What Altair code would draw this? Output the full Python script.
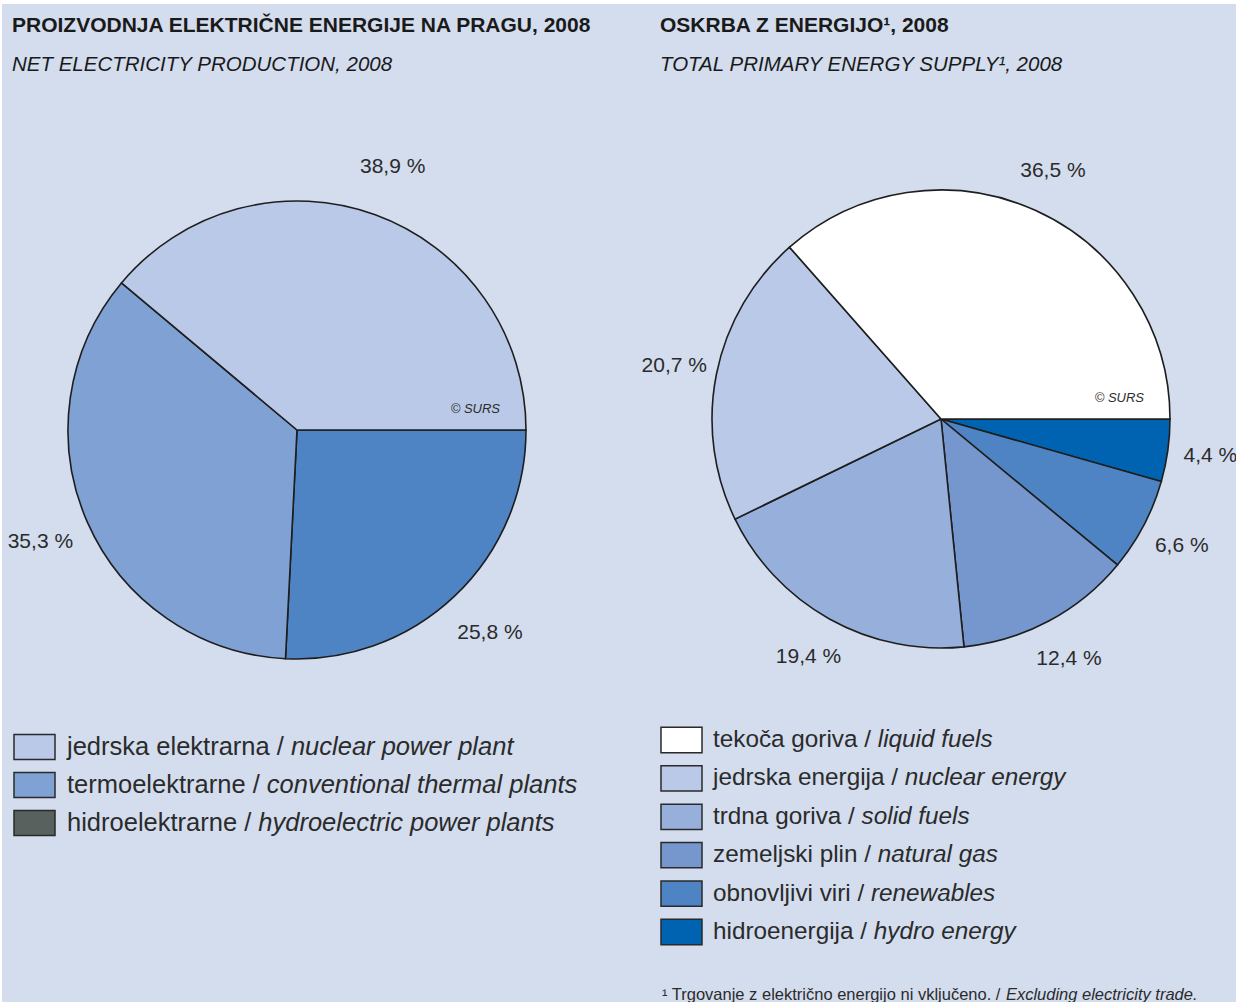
import math

import altair as alt
import pandas as pd

W, H = 1236, 1002
BG = "#d3ddee"
INK = "#2b2b2b"
SANS = "'Liberation Sans', Arial, sans-serif"

# ---- Net electricity production, 2008 (%), listed clockwise from 3 o'clock
elec_keys = ["hidroelektrarne", "termoelektrarne", "jedrska elektrarna"]
elec_values = [25.8, 35.3, 38.9]
elec_colors = ["#4f84c4", "#80a1d4", "#b9c9e7"]

elec_legend_si = ["jedrska elektrarna / ", "termoelektrarne / ", "hidroelektrarne / "]
elec_legend_en = ["nuclear power plant", "conventional thermal plants", "hydroelectric power plants"]
elec_legend_colors = ["#b9c9e7", "#80a1d4", "#58615d"]

# ---- Total primary energy supply, 2008 (%), listed clockwise from 3 o'clock
tpes_keys = ["hidroenergija", "obnovljivi viri", "zemeljski plin", "trdna goriva",
             "jedrska energija", "tekoča goriva"]
tpes_values = [4.4, 6.6, 12.4, 19.4, 20.7, 36.5]
tpes_colors = ["#0063b1", "#4f84c4", "#7597ce", "#97b0db", "#b9c9e7", "#ffffff"]

tpes_legend_si = ["tekoča goriva / ", "jedrska energija / ", "trdna goriva / ",
                  "zemeljski plin / ", "obnovljivi viri / ", "hidroenergija / "]
tpes_legend_en = ["liquid fuels", "nuclear energy", "solid fuels", "natural gas",
                  "renewables", "hydro energy"]
tpes_legend_colors = ["#ffffff", "#b9c9e7", "#97b0db", "#7597ce", "#4f84c4", "#0063b1"]

titles_si = ["PROIZVODNJA ELEKTRIČNE ENERGIJE NA PRAGU, 2008", "OSKRBA Z ENERGIJO¹, 2008"]
titles_en = ["NET ELECTRICITY PRODUCTION, 2008", "TOTAL PRIMARY ENERGY SUPPLY¹, 2008"]
footnote_si = "¹ Trgovanje z električno energijo ni vključeno. / "
footnote_en = "Excluding electricity trade."
credit = "© SURS"

# Advance widths (per 1000 em) of the Arial-metric sans, so the italic half
# of a line starts right after its upright half.
ADV = {
    "a": 556, "b": 556, "c": 500, "d": 556, "e": 556, "f": 278, "g": 556, "h": 556,
    "i": 222, "j": 222, "k": 500, "l": 222, "m": 833, "n": 556, "o": 556, "p": 556,
    "q": 556, "r": 333, "s": 500, "t": 278, "u": 556, "v": 500, "w": 722, "x": 500,
    "y": 500, "z": 500, "č": 500, "š": 500, "ž": 500, " ": 278, "/": 278, ".": 278,
    "¹": 333, "T": 611, "E": 667,
}


def text_width(s, size):
    return sum(ADV.get(ch, 556) for ch in s) / 1000.0 * size


def pie(keys, values, colors, cx, cy, r, label_r):
    df = pd.DataFrame({"key": keys, "value": values, "order": list(range(len(keys)))})
    df["label"] = [f"{v:.1f}".replace(".", ",") + " %" for v in values]
    theta = alt.Theta(
        "value:Q", stack=True,
        scale=alt.Scale(range=[math.pi / 2, math.pi / 2 + 2 * math.pi]),
    )
    base = alt.Chart(df).encode(
        theta=theta, order=alt.Order("order:Q"), x=alt.value(cx), y=alt.value(cy)
    )
    arcs = base.mark_arc(radius=r, stroke="#1e1e1e", strokeWidth=1.6).encode(
        color=alt.Color("key:N", scale=alt.Scale(domain=keys, range=colors), legend=None)
    )
    labels = base.mark_text(
        radius=label_r, font=SANS, fontSize=21, color=INK, align="center", baseline="middle"
    ).encode(text="label:N")
    mark = alt.Chart(pd.DataFrame({"t": [credit]})).mark_text(
        font=SANS, fontSize=13, fontStyle="italic", color=INK, align="right", baseline="middle"
    ).encode(text="t:N", x=alt.value(cx + 203), y=alt.value(cy - 21))
    return alt.layer(arcs, labels, mark)


def legend(si, en, colors, box_x, text_x, y0, step, size):
    n = len(si)
    df = pd.DataFrame({"row": list(range(n)), "si": si, "en": en, "key": si})
    df["top"] = df["row"] - 0.33
    df["bottom"] = df["row"] + 0.33
    df["x_en"] = [text_x + text_width(s, size) for s in si]
    ys = alt.Scale(domain=[0, n - 1], range=[y0, y0 + (n - 1) * step], nice=False, zero=False)
    xs = alt.Scale(domain=[0, W], range=[0, W], nice=False, zero=False)
    base = alt.Chart(df)
    boxes = base.mark_rect(stroke="#2a2a2a", strokeWidth=1.5).encode(
        x=alt.value(box_x), x2=alt.value(box_x + 41),
        y=alt.Y("top:Q", scale=ys, axis=None), y2="bottom:Q",
        color=alt.Color("key:N", scale=alt.Scale(domain=si, range=colors), legend=None),
    )
    upright = base.mark_text(
        font=SANS, fontSize=size, color=INK, align="left", baseline="middle"
    ).encode(x=alt.value(text_x), y=alt.Y("row:Q", scale=ys, axis=None), text="si:N")
    italic = base.mark_text(
        font=SANS, fontSize=size, fontStyle="italic", color=INK, align="left", baseline="middle"
    ).encode(
        x=alt.X("x_en:Q", scale=xs, axis=None),
        y=alt.Y("row:Q", scale=ys, axis=None), text="en:N",
    )
    return alt.layer(boxes, upright, italic).resolve_scale(color="independent")


def heading(si, en, x):
    top = alt.Chart(pd.DataFrame({"t": [si]})).mark_text(
        font=SANS, fontSize=21, fontWeight="bold", color="#1a1a1a", align="left",
        baseline="alphabetic",
    ).encode(text="t:N", x=alt.value(x), y=alt.value(32))
    sub = alt.Chart(pd.DataFrame({"t": [en]})).mark_text(
        font=SANS, fontSize=20.5, fontStyle="italic", color="#1a1a1a", align="left",
        baseline="alphabetic",
    ).encode(text="t:N", x=alt.value(x), y=alt.value(71))
    return alt.layer(top, sub)


panel = alt.Chart(pd.DataFrame({"a": [0]})).mark_rect(color=BG).encode(
    x=alt.value(2), x2=alt.value(W), y=alt.value(4), y2=alt.value(H)
)

foot_size = 16.5
foot_x = 662
foot_df = pd.DataFrame({"si": [footnote_si], "en": [footnote_en]})
foot_si = alt.Chart(foot_df).mark_text(
    font=SANS, fontSize=foot_size, color=INK, align="left", baseline="alphabetic"
).encode(text="si:N", x=alt.value(foot_x), y=alt.value(1000))
foot_en = alt.Chart(foot_df).mark_text(
    font=SANS, fontSize=foot_size, fontStyle="italic", color=INK, align="left",
    baseline="alphabetic",
).encode(
    text="en:N",
    x=alt.value(foot_x + text_width(footnote_si, foot_size)),
    y=alt.value(1000),
)

chart = alt.layer(
    panel,
    heading(titles_si[0], titles_en[0], 12),
    heading(titles_si[1], titles_en[1], 660),
    pie(elec_keys, elec_values, elec_colors, 297, 430, 229, 280),
    pie(tpes_keys, tpes_values, tpes_colors, 941, 419, 229, 272),
    legend(elec_legend_si, elec_legend_en, elec_legend_colors, 14, 67, 747, 38, 25.5),
    legend(tpes_legend_si, tpes_legend_en, tpes_legend_colors, 661, 713, 740, 38.4, 24.3),
    foot_si,
    foot_en,
).resolve_scale(
    theta="independent", color="independent", x="independent", y="independent"
).properties(
    width=W, height=H, background="#ffffff", padding=0,
    autosize=alt.AutoSizeParams(type="none"),
).configure_view(stroke=None)

chart.save("out.html", embed_options={"renderer": "svg", "actions": False})
